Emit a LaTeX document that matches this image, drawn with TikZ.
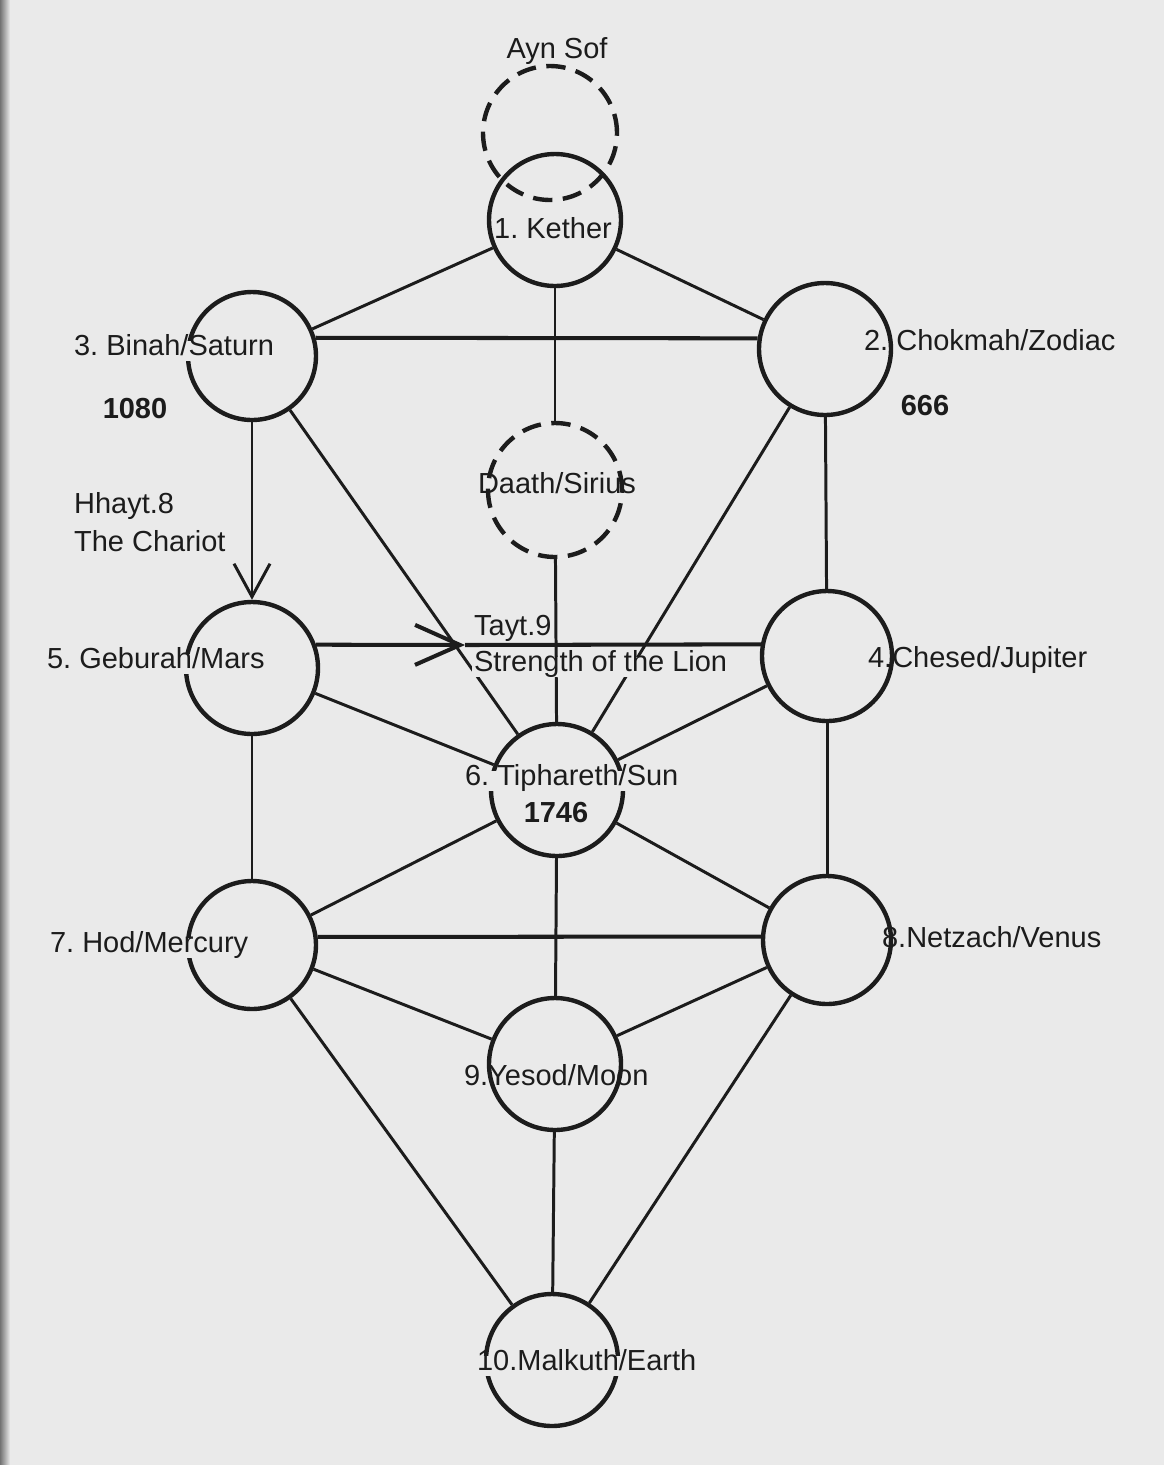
\documentclass[tikz,border=0pt]{standalone}
\usepackage{fontspec}
\setmainfont{Liberation Sans}
\usepackage{tikz}
\usetikzlibrary{arrows.meta}
\definecolor{paper}{RGB}{234,234,234}
\definecolor{ink}{RGB}{28,28,28}
\frenchspacing

\begin{document}
\begin{tikzpicture}[
  x=0.02cm, y=-0.02cm,
  font=\fontsize{16.5}{19}\selectfont,
  sephira/.style={circle, draw=ink, line width=2.5pt, minimum size=2.64cm, inner sep=0pt},
  veiled/.style={sephira, dash pattern=on 11pt off 6pt},
  lbl/.style={text=ink, inner sep=1pt, text height=0.72em, text depth=0.2em, yshift=-0.12cm},
  cutlbl/.style={lbl, fill=paper},
  num/.style={lbl, font=\fontsize{16.5}{19}\selectfont\bfseries},
  link/.style={draw=ink, line width=1.7pt},
  heavy/.style={link, line width=2.3pt},
  downbarb/.style={-{Straight Barb[length=0.66cm, width=0.72cm]}},
  rightbarb/.style={-{Straight Barb[length=0.9cm, width=0.8cm]}}
]
\fill[paper] (0,0) rectangle (1164,1465);
\shade[left color=black!55, right color=paper] (0,0) rectangle (10,1465);
\useasboundingbox (0,0) rectangle (1164,1465);

\node[veiled, minimum size=2.68cm] (aynsof) at (550,133) {};
\node[sephira] (kether) at (555,220) {};
\node[sephira, minimum size=2.56cm] (binah) at (252,356) {};
\node[sephira] (chokmah) at (825,349) {};
\node[veiled, minimum size=2.68cm] (daath) at (555,490) {};
\node[sephira] (geburah) at (252,668) {};
\node[sephira, minimum size=2.6cm] (chesed) at (827,656) {};
\node[sephira] (tiphareth) at (557,790) {};
\node[sephira, minimum size=2.56cm] (hod) at (252,945) {};
\node[sephira, minimum size=2.56cm] (netzach) at (827,940) {};
\node[sephira] (yesod) at (555,1064) {};
\node[sephira] (malkuth) at (552,1360) {};

\coordinate (taytTip) at (465,645);

\draw[link] (kether) -- (binah);
\draw[link] (kether) -- (chokmah);
\draw[link] (kether) -- (daath);
\draw[heavy] (binah.16) -- (chokmah.171);
\draw[link, downbarb] (binah) -- (geburah);
\draw[link] (binah) -- (tiphareth);
\draw[link] (chokmah) -- (tiphareth);
\draw[link] (chokmah) -- (chesed);
\draw[link] (daath) -- (tiphareth);
\draw[heavy, rightbarb] (geburah.20) -- (taytTip);
\draw[heavy] (taytTip) -- (chesed.170);
\draw[link] (geburah) -- (tiphareth);
\draw[link] (chesed) -- (tiphareth);
\draw[link] (geburah) -- (hod);
\draw[link] (chesed) -- (netzach);
\draw[link] (tiphareth) -- (hod);
\draw[link] (tiphareth) -- (netzach);
\draw[link] (tiphareth) -- (yesod);
\draw[heavy] (hod.7) -- (netzach.177);
\draw[link] (hod) -- (yesod);
\draw[link] (netzach) -- (yesod);
\draw[link] (hod) -- (malkuth);
\draw[link] (netzach) -- (malkuth);
\draw[link] (yesod) -- (malkuth);

\node[lbl] (aynsofLbl) at (557,48) {Ayn Sof};
\node[lbl] (ketherLbl) at (553,228) {1. Kether};
\node[lbl, anchor=west] (chokmahLbl) at (862,340) {2. Chokmah/Zodiac};
\node[num] (chokmahNum) at (925,405) {666};
\node[cutlbl, anchor=west] (binahLbl) at (72,345) {3. Binah/Saturn};
\node[num] (binahNum) at (135,408) {1080};
\node[lbl, anchor=west] (hhaytLbl) at (72,503) {Hhayt.8};
\node[lbl, anchor=west] (chariotLbl) at (72,541) {The Chariot};
\node[lbl] (daathLbl) at (557,483) {Daath/Sirius};
\node[lbl, anchor=west] (taytLbl) at (472,625) {Tayt.9};
\node[cutlbl, anchor=west] (lionLbl) at (472,661) {Strength of the Lion};
\node[cutlbl, anchor=west] (geburahLbl) at (45,658) {5. Geburah/Mars};
\node[lbl, anchor=west] (chesedLbl) at (866,657) {4.Chesed/Jupiter};
\node[cutlbl, anchor=west] (tipharethLbl) at (463,775) {6. Tiphareth/Sun};
\node[num] (tipharethNum) at (556,812) {1746};
\node[cutlbl, anchor=west] (hodLbl) at (48,942) {7. Hod/Mercury};
\node[lbl, anchor=west] (netzachLbl) at (880,937) {8.Netzach/Venus};
\node[lbl, anchor=west] (yesodLbl) at (462,1075) {9.Yesod/Moon};
\node[cutlbl, anchor=west] (malkuthLbl) at (475,1360) {10.Malkuth/Earth};
\end{tikzpicture}
\end{document}
